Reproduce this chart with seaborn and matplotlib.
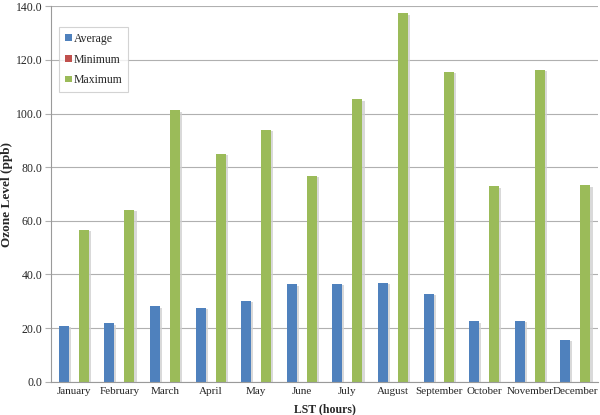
import numpy as np
import pandas as pd
import matplotlib
matplotlib.use('Agg')
import matplotlib.pyplot as plt
import matplotlib.patheffects as pe
import seaborn as sns

# Monthly ozone levels (ppb)
months = ['January', 'February', 'March', 'April', 'May', 'June', 'July',
          'August', 'September', 'October', 'November', 'December']
average = [20.8, 21.8, 28.2, 27.6, 30.3, 36.3, 36.5, 37.0, 32.7, 22.5, 22.7, 15.6]
minimum = [0, 0, 0, 0, 0, 0, 0, 0, 0, 0, 0, 0]
maximum = [56.6, 64.1, 101.2, 85.0, 93.9, 76.7, 105.3, 137.3, 115.6, 72.9, 116.2, 73.3]
series = ['Average', 'Minimum', 'Maximum']

df = pd.DataFrame({'Month': months, 'Average': average,
                   'Minimum': minimum, 'Maximum': maximum})
df_long = df.melt(id_vars='Month', var_name='Series', value_name='Ozone')

sns.set_style('white')
plt.rcParams['font.family'] = ['Liberation Serif', 'DejaVu Serif']

fig = plt.figure(figsize=(6, 4.15), dpi=100)
ax = fig.add_axes([0.085, 0.08, 0.912, 0.905])

palette = {'Average': '#4F81BD', 'Minimum': '#C0504D', 'Maximum': '#9BBB59'}
sns.barplot(data=df_long, x='Month', y='Ozone', hue='Series', hue_order=series,
            palette=palette, width=0.66, gap=0, saturation=1, ax=ax)

# light drop shadow like the original spreadsheet chart
for p in ax.patches:
    p.set_path_effects([pe.SimplePatchShadow(offset=(1.5, -1), shadow_rgbFace='#d0d0d0', alpha=0.8),
                        pe.Normal()])
    p.set_linewidth(0)

ax.set_ylim(0, 140)
ax.set_yticks(np.arange(0, 141, 20))
ax.set_yticklabels([f'{v:.1f}' for v in np.arange(0, 141, 20)], fontsize=8.5)
ax.tick_params(axis='x', labelsize=8, length=0, pad=4)
ax.tick_params(axis='y', length=4, color='#b0b0b0', pad=2, left=True)
ax.yaxis.grid(True, color='#b0b0b0', linewidth=0.8)
ax.set_axisbelow(True)
ax.set_xlim(-0.5, 11.5)

for s in ['top', 'right']:
    ax.spines[s].set_visible(False)
for s in ['left', 'bottom']:
    ax.spines[s].set_color('#9a9a9a')
    ax.spines[s].set_linewidth(0.8)

ax.set_xlabel('LST (hours)', fontsize=8.5, fontweight='bold')
ax.xaxis.set_label_coords(0.5, -0.058)
ax.set_ylabel('Ozone Level (ppb)', fontsize=9.5, fontweight='bold')
ax.yaxis.set_label_coords(-0.07, 0.5)

leg = ax.legend(loc='upper left', bbox_to_anchor=(0.014, 0.945), fontsize=8.5,
                frameon=True, fancybox=False, handlelength=0.5, handleheight=0.45,
                handletextpad=0.25, borderpad=0.5, borderaxespad=0,
                labelspacing=0.75)
leg.get_frame().set_edgecolor('#c8c8c8')
leg.get_frame().set_linewidth(0.8)
for h in leg.legend_handles:
    h.set_path_effects([])
    h.set_height(5)
    h.set_width(5)

fig.savefig('out.png', dpi=100)
